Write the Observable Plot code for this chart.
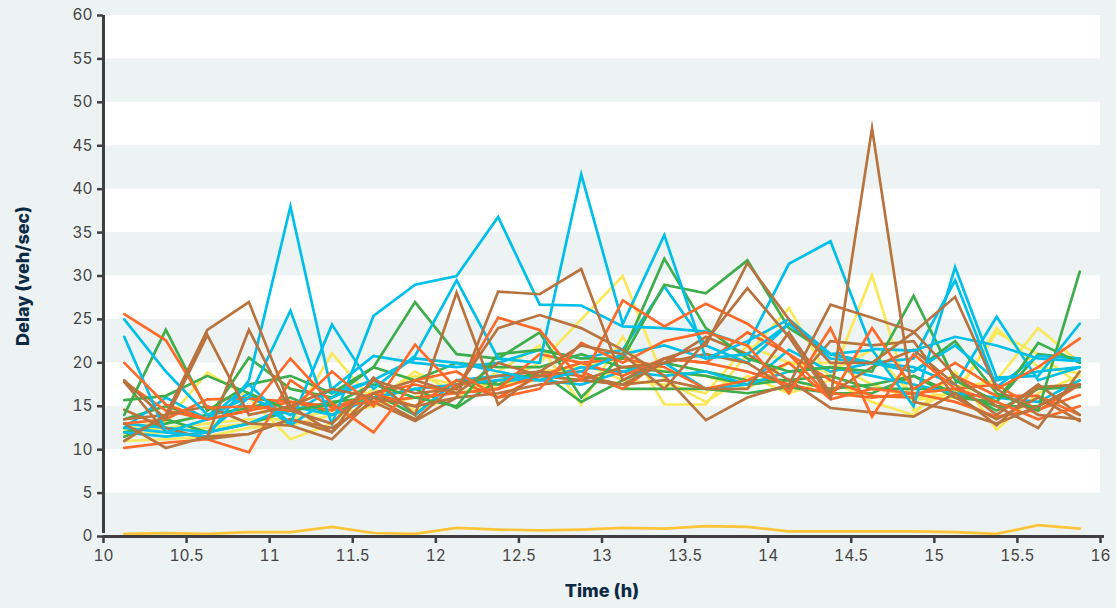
<!DOCTYPE html>
<html>
<head>
<meta charset="utf-8">
<script src="https://cdn.jsdelivr.net/npm/d3@7"></script>
<script src="https://cdn.jsdelivr.net/npm/@observablehq/plot@0.6"></script>
<style>
  html, body { margin: 0; padding: 0; background: #edf3f3; }
  #chart { width: 1116px; height: 608px; }
</style>
</head>
<body>
<div id="chart"></div>
<script>
// Time points (h)
const times = [10.125, 10.375, 10.625, 10.875, 11.125, 11.375, 11.625, 11.875, 12.125, 12.375, 12.625, 12.875,
               13.125, 13.375, 13.625, 13.875, 14.125, 14.375, 14.625, 14.875, 15.125, 15.375, 15.625, 15.875];

const xTicks = [10, 10.5, 11, 11.5, 12, 12.5, 13, 13.5, 14, 14.5, 15, 15.5, 16];
const yTicks = [0, 5, 10, 15, 20, 25, 30, 35, 40, 45, 50, 55, 60];
const whiteBands = [[5, 10], [15, 20], [25, 30], [35, 40], [45, 50], [55, 60]];

// Delay series (veh/sec)
const cyan1 = [12.5, 12, 11.5, 18, 38, 16.5, 18, 20.5, 20, 19, 18, 19, 21, 22, 20.5, 21, 24.5, 21, 20, 19, 22, 18, 19, 19.5];
const cyan2 = [25, 19, 14, 16, 26, 13, 25.4, 29, 30, 36.8, 26.7, 26.6, 24.2, 24, 23.6, 22, 31.4, 34, 21.6, 21.4, 23, 22, 20.5, 20.2];
const cyan3 = [23, 12, 13.5, 17.5, 13, 24.4, 17, 20.8, 29.5, 20.5, 20, 41.7, 24.5, 34.7, 20.5, 22.5, 25, 21, 21.5, 15, 31, 18.3, 18.5, 24.5];
const cyan4 = [13, 12.5, 12, 16, 14, 17, 20.8, 20, 19.5, 20, 21.5, 20.5, 21.5, 28.8, 22, 20, 24.5, 20.5, 20, 20.5, 29.5, 17.2, 20.8, 20.5];
const cyan5 = [12.5, 16, 13.5, 16.5, 12.8, 16, 18, 14, 18, 18.5, 18, 19.5, 19, 18.5, 19, 17.5, 19, 19.5, 18.5, 17.5, 16.5, 16, 15.5, 18];
const cyan6 = [12, 11.5, 12, 13, 15, 14, 16, 17, 17.5, 18, 18, 17.5, 19, 20, 17, 17.5, 21.5, 19, 20, 19.5, 17.5, 25.3, 18, 19.5];

const green1 = [14, 23.8, 14.5, 17.5, 18.5, 16.5, 19.5, 27, 21, 20.5, 23.5, 16, 21, 32, 24, 20.5, 19, 19.5, 19, 27.7, 18, 15.5, 22.3, 20];
const green2 = [15.7, 16.2, 18.5, 16.5, 14.5, 15.2, 17.5, 16, 15, 21, 21.5, 20.5, 20.5, 29, 28, 31.8, 24, 21, 20, 19, 22.5, 16.5, 14.5, 30.5];
const green3 = [13.5, 15, 13.5, 20.6, 17, 16, 19.5, 18, 20, 19.5, 19.5, 21, 19.5, 19, 18.5, 17.5, 18, 17, 17.5, 18.5, 16, 15.5, 21, 20.5];
const green4 = [12, 13, 14, 14.8, 16, 14, 16.5, 14, 18, 17.5, 19, 15.5, 18, 20, 19, 18, 18, 18.5, 17, 17, 17, 14.5, 17, 17.2];
const green5 = [11.5, 13.5, 12, 13, 14.5, 15.5, 16, 17, 14.8, 18, 18.5, 19, 17, 17, 17, 16.5, 17.2, 16.5, 16.5, 18.5, 16.5, 15, 15, 17.5];

const brown1 = [11, 14, 23.8, 27, 15, 17, 16, 15, 16, 28.2, 27.9, 30.8, 18, 20.5, 22, 31.5, 25, 20, 20, 23.5, 27.6, 17, 14, 13.5];
const brown2 = [18, 13.5, 23.2, 14, 15, 12, 18.3, 14, 28.1, 15.2, 19, 22, 21, 17, 22.5, 28.6, 23, 16, 47, 15.5, 14.5, 13, 15, 17.5];
const brown3 = [13, 10.2, 11.5, 23.8, 14.5, 13, 18, 16.5, 17, 24, 25.5, 24, 21.5, 18.5, 13.4, 16, 17.5, 26.7, 25.2, 23.6, 18.5, 15, 12.5, 19];
const brown4 = [14.6, 12.5, 11.2, 11.8, 13.5, 12, 16.5, 18, 16.5, 20, 18.5, 18, 17.5, 18, 17, 17, 23.5, 16.5, 19.5, 21.5, 17.5, 14, 17.5, 14];
const brown5 = [13.5, 14, 15, 13, 12.8, 11.2, 16, 13.5, 17.5, 18.5, 19, 18.5, 17.5, 20, 23, 21, 18, 14.8, 14.3, 13.8, 16.5, 12.8, 17.2, 17.5];
const brown6 = [17.8, 12, 11.5, 11.8, 13.5, 12.5, 15.5, 13.3, 16, 16.5, 17.5, 18, 19.5, 20, 21, 20, 17, 22.5, 22, 22.5, 16, 13.5, 16, 13.3];

const orange1 = [25.6, 22.6, 14.8, 15, 14.5, 19, 15, 22.1, 17, 25.2, 23.8, 18, 27.2, 24.2, 26.8, 24.5, 21, 16, 24, 17, 20, 17, 19.5, 22.8];
const orange2 = [20, 15.2, 13.5, 14.5, 20.5, 15.3, 12, 18, 19, 16, 17, 22.3, 20, 22.5, 23.5, 22, 16.5, 24, 13.8, 21, 17, 15.5, 13.5, 15];
const orange3 = [10.2, 10.8, 11.2, 9.7, 18, 14.8, 16.5, 17.5, 16.5, 17, 21, 20, 18.5, 20.5, 20, 19, 17.5, 16.5, 16, 16.5, 17, 17.5, 14.5, 17.5];
const orange4 = [13, 13.5, 15.8, 15.9, 15.5, 15, 15.5, 16, 16.5, 17, 18.5, 19, 17, 20.5, 20, 23.5, 21, 18, 16.2, 16, 18.5, 16.2, 16.2, 14];
const orange5 = [17.8, 14.5, 13.5, 14.5, 15.5, 14.5, 16.5, 15, 18, 16, 18.5, 20, 20.5, 19.5, 17, 18, 20, 15.8, 17, 16.5, 15.5, 13.8, 14.6, 16.3];

const yellow1 = [12.5, 13.2, 18.9, 16, 11.2, 13, 17, 14.5, 16, 19, 22, 15.2, 23, 15.2, 15.2, 21, 26.3, 18, 15.5, 14, 19, 12.3, 16.5, 18.5];
const yellow2 = [11, 11.2, 11.5, 12.5, 13, 21.1, 15.5, 19, 16.5, 17.5, 20, 25, 30, 18, 15.5, 18.5, 16.5, 18, 30.1, 14.5, 17, 18, 24, 20];
const yellow3 = [12.2, 12.5, 13, 13.5, 13.5, 14.5, 16, 18.5, 17.5, 17.5, 18, 20, 18, 17.5, 16.5, 22, 20, 19, 21.5, 16, 16.5, 23.5, 21, 17.5];
const yellow4 = [11.8, 12, 12.5, 13, 12.8, 14, 15, 16, 17.8, 17, 19, 19.5, 20.5, 19, 18.5, 17, 20, 20, 17.5, 15.8, 16, 24, 19.5, 18.8];

const gold1 = [0.3, 0.4, 0.3, 0.5, 0.5, 1.1, 0.4, 0.3, 1.0, 0.8, 0.7, 0.8, 1.0, 0.9, 1.2, 1.1, 0.6, 0.6, 0.6, 0.6, 0.5, 0.3, 1.3, 0.9];

const palette = {
  cyan: "#00bfe8", green: "#3dae4b", brown: "#b8733f",
  orange: "#ff6a2a", yellow: "#fbe85a", gold: "#fdc43a"
};

const seriesList = [
  ["gold1", "gold", gold1],
  ["yellow1", "yellow", yellow1], ["yellow2", "yellow", yellow2], ["yellow3", "yellow", yellow3], ["yellow4", "yellow", yellow4],
  ["green5", "green", green5], ["green4", "green", green4], ["green3", "green", green3],
  ["cyan5", "cyan", cyan5], ["cyan6", "cyan", cyan6], ["cyan4", "cyan", cyan4],
  ["orange3", "orange", orange3], ["orange4", "orange", orange4], ["orange5", "orange", orange5],
  ["brown4", "brown", brown4], ["brown5", "brown", brown5], ["brown6", "brown", brown6],
  ["green2", "green", green2], ["green1", "green", green1],
  ["cyan1", "cyan", cyan1], ["cyan3", "cyan", cyan3], ["cyan2", "cyan", cyan2],
  ["orange2", "orange", orange2], ["orange1", "orange", orange1],
  ["brown3", "brown", brown3], ["brown1", "brown", brown1], ["brown2", "brown", brown2]
];

const rows = [];
for (const [id, color, vals] of seriesList) {
  vals.forEach((v, i) => rows.push({id, color: palette[color], t: times[i], v}));
}

const bands = whiteBands.map(([a, b]) => ({y1: a, y2: b}));

const font = "Inter, 'Open Sans', sans-serif";

const chart = Plot.plot({
  width: 1116,
  height: 608,
  marginLeft: 103,
  marginRight: 16,
  marginTop: 15,
  marginBottom: 72,
  style: {background: "#edf3f3", fontFamily: font, fontSize: "15.5px", color: "#444"},
  x: {domain: [10, 16], label: null},
  y: {domain: [0, 60], label: null},
  marks: [
    Plot.rect(bands, {x1: 10, x2: 16, y1: "y1", y2: "y2", fill: "white", inset: 0}),
    Plot.line(rows, {x: "t", y: "v", z: "id", stroke: "color", strokeWidth: 2.7, strokeLinejoin: "miter", strokeMiterlimit: 10}),
    Plot.ruleX([10], {y1: 0, y2: 60, stroke: "#3f3f3f", strokeWidth: 3, insetTop: -3}),
    Plot.ruleY([0], {x1: 10, x2: 16, stroke: "#3f3f3f", strokeWidth: 3, insetRight: -4}),
    Plot.axisY(yTicks, {tickSize: 6, tickPadding: 5, stroke: "#3f3f3f", strokeWidth: 2.5, fill: "#444", fontSize: 15.5, label: null}),
    Plot.axisX(xTicks, {tickSize: 7, tickPadding: 6, stroke: "#3f3f3f", strokeWidth: 2.5, fill: "#444", fontSize: 15.5, label: null, tickFormat: d => String(d)}),
    Plot.text(["Delay (veh/sec)"], {frameAnchor: "left", textAnchor: "middle", dx: -80, rotate: -90, fontWeight: 800, fontSize: 18, fill: "#0c2a45"}),
    Plot.text(["Time (h)"], {frameAnchor: "bottom", textAnchor: "middle", dy: 60, fontWeight: 800, fontSize: 18, fill: "#0c2a45"})
  ]
});
document.getElementById("chart").appendChild(chart);
</script>
</body>
</html>
